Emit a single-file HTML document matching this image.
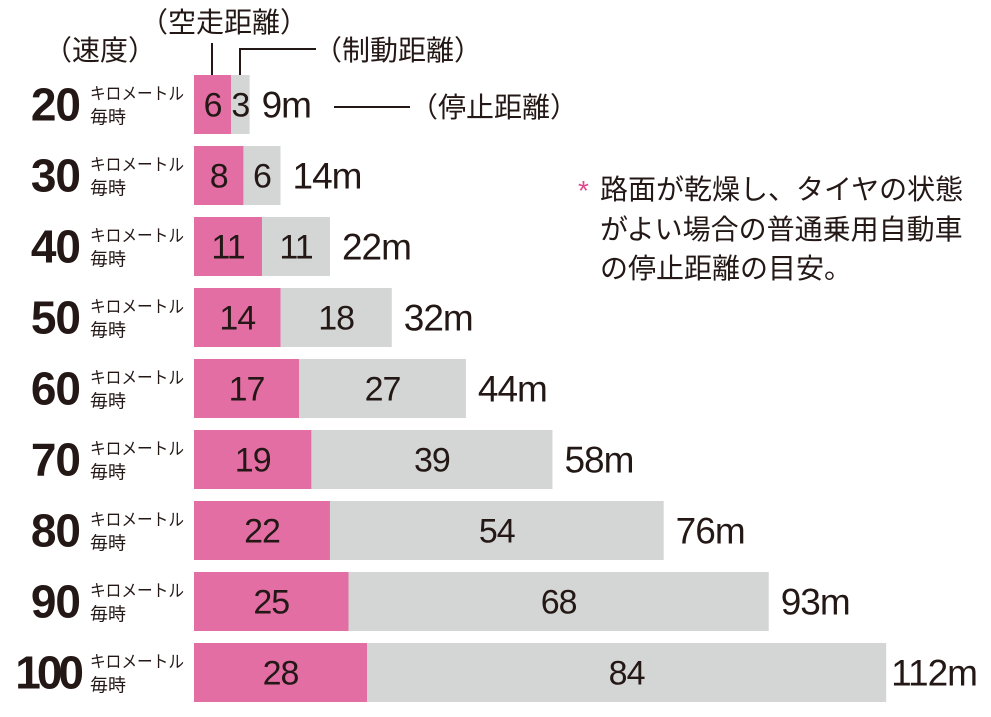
<!DOCTYPE html>
<html><head><meta charset="utf-8"><style>
body{margin:0;background:#fff;width:991px;height:712px;overflow:hidden;font-family:"Liberation Sans","Noto Sans CJK JP",sans-serif;color:#231815}
svg text{font-family:"Liberation Sans","Noto Sans CJK JP",sans-serif;fill:#231815}
</style></head><body>
<svg id="chart" width="991" height="712">
<text x="44" y="60" font-size="28">（速度）</text>
<text x="140" y="32" font-size="28">（空走距離）</text>
<text x="314" y="60" font-size="28">（制動距離）</text>
<text x="410" y="117" font-size="28">（停止距離）</text>
<line x1="212" y1="43" x2="212" y2="82" stroke="#231815" stroke-width="2"/>
<polyline points="240,82 240,49 316,49" fill="none" stroke="#231815" stroke-width="2"/>
<line x1="334" y1="107" x2="410" y2="107" stroke="#231815" stroke-width="2"/>
<text x="578" y="200" font-size="28" style="fill:#e0488e">*</text>
<g font-size="28">
<text x="600" y="199">路面が乾燥し、タイヤの状態</text>
<text x="600" y="239">がよい場合の普通乗用自動車</text>
<text x="600" y="278">の停止距離の目安。</text>
</g>
<g id="bars"></g>
</svg>
<script>
const speeds=[20,30,40,50,60,70,80,90,100];
const reaction=[6,8,11,14,17,19,22,25,28];
const braking=[3,6,11,18,27,39,54,68,84];
const totals=[9,14,22,32,44,58,76,93,112];
const x0=194, pxPerM=6.18, top0=75, step=71, bh=59;
const xs=v=>x0+v*pxPerM;
const ys=i=>top0+i*step;
const NS="http://www.w3.org/2000/svg";
const g=document.getElementById('bars');
function mk(tag,attrs,text){const e=document.createElementNS(NS,tag);for(const k in attrs)e.setAttribute(k,attrs[k]);if(text!==undefined)e.textContent=text;g.appendChild(e);return e;}
speeds.forEach((s,i)=>{
 const y=ys(i), cy=y+bh/2;
 const r=reaction[i], b=braking[i];
 let e=mk('text',{x:80,y:cy+16,'font-size':46,'font-weight':'bold','text-anchor':'end','letter-spacing':s>=100?-4:-1},s);
 
 
 e=mk('text',{x:90,y:cy-5,'font-size':17,'textLength':94,'lengthAdjust':'spacingAndGlyphs'},'キロメートル');
 
 
 e=mk('text',{x:90,y:cy+19,'font-size':18},'毎時');
 
 
 e=mk('rect',{x:xs(0),y:y,width:xs(r)-xs(0),height:bh,fill:'#e26ea4'});
 
 
 e=mk('rect',{x:xs(r),y:y,width:xs(r+b)-xs(r),height:bh,fill:'#d4d5d5'});
 
 
 e=mk('text',{x:(xs(0)+xs(r))/2,y:cy+12,'font-size':34,'text-anchor':'middle','letter-spacing':-1},r);
 
 
 e=mk('text',{x:(xs(r)+xs(r+b))/2,y:cy+12,'font-size':34,'text-anchor':'middle','letter-spacing':-1},b);
 
 
 e=mk('text',{x:xs(totals[i])+(totals[i]>=100?5:12),y:cy+13,'font-size':37,'letter-spacing':-1},totals[i]+'m');
 
 
});
</script>
</body></html>
